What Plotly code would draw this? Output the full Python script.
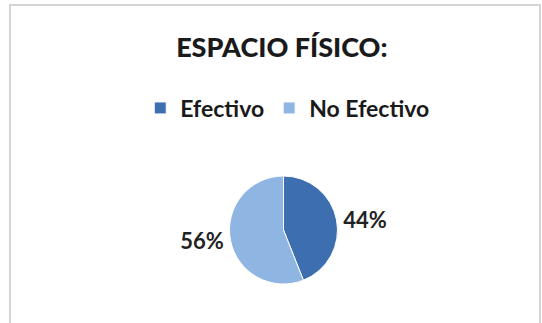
import plotly.graph_objects as go

categories = ["Efectivo", "No Efectivo"]
values = [44, 56]
colors = ["#3d6fb0", "#8fb5e3"]
title_text = "ESPACIO FÍSICO:"

W, H = 542, 323
cx, cy, r = 283.5, 230, 54

fig = go.Figure(go.Pie(
    labels=categories,
    values=values,
    sort=False,
    direction="clockwise",
    rotation=0,
    marker=dict(colors=colors, line=dict(color="white", width=1)),
    texttemplate="%{percent:.0%}",
    textposition="outside",
    outsidetextfont=dict(family="Lato", size=22, color="#222222", weight="bold"),
    hoverinfo="skip",
    domain=dict(x=[(cx - r) / W, (cx + r) / W], y=[(H - cy - r) / H, (H - cy + r) / H]),
))

fig.update_layout(
    width=W, height=H,
    margin=dict(l=0, r=0, t=0, b=0),
    paper_bgcolor="white",
    plot_bgcolor="white",
    title=dict(text=title_text, x=0.52, xanchor="center",
               y=1 - 48 / H, yanchor="middle",
               font=dict(family="Lato", size=27, color="#1a1a1a", weight=900)),
    legend=dict(orientation="h", x=0.53, xanchor="center", y=1 - 108 / H, yanchor="middle",
                font=dict(family="Lato", size=23, color="#1a1a1a", weight="bold"),
                itemwidth=30, traceorder="normal"),
    shapes=[dict(type="rect", xref="paper", yref="paper",
                 x0=10 / W, x1=540 / W, y0=-0.05, y1=1 - 5 / H,
                 line=dict(color="#d4d4d4", width=2), fillcolor="rgba(0,0,0,0)", layer="below")],
)

fig.write_html("out.html")
